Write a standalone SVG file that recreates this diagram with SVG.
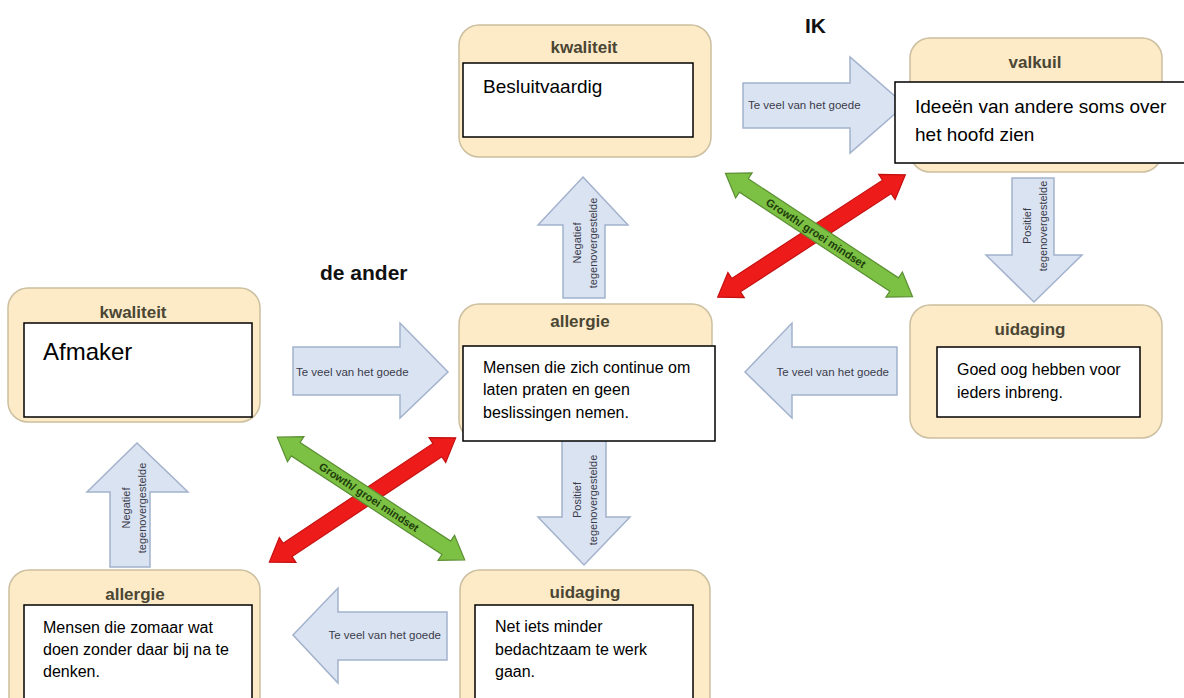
<svg xmlns="http://www.w3.org/2000/svg" width="1184" height="698" viewBox="0 0 1184 698">
<defs>
<style>
.node{fill:#fdebc8;stroke:#cbbf9f;stroke-width:1.5}
.title{font-family:"Liberation Sans",Arial,sans-serif;font-weight:bold;font-size:17px;fill:#4a4633;text-anchor:middle}
.box{fill:#ffffff;stroke:#000000;stroke-width:1.5}
.body{font-family:"Liberation Sans",Arial,sans-serif;font-size:16px;fill:#000000}
.big{font-size:19px}
.huge{font-size:24px}
.head{font-family:"Liberation Sans",Arial,sans-serif;font-weight:bold;font-size:21px;fill:#111111}
.blk{fill:#dae3f2;stroke:#a3b2cc;stroke-width:1.5}
.blab{font-family:"Liberation Sans",Arial,sans-serif;font-size:11.5px;fill:#3b3b4a}
.vlab{font-family:"Liberation Sans",Arial,sans-serif;font-size:11px;fill:#3b3b4a;text-anchor:middle}
.green{fill:#7cc143;stroke:#5b8f33;stroke-width:1.2}
.red{fill:#ee1b1b;stroke:#c40f0f;stroke-width:1.2}
.glab{font-family:"Liberation Sans",Arial,sans-serif;font-weight:bold;font-size:11px;fill:#1e3d0c;text-anchor:middle}
</style>
<polygon id="dbl" points="-112,0 -90,-15 -90,-8 90,-8 90,-15 112,0 90,15 90,8 -90,8 -90,15"/>
</defs>
<rect width="1184" height="698" fill="#ffffff"/>

<text class="head" x="805" y="33">IK</text>
<text class="head" x="320" y="280">de ander</text>

<g id="connectors">
  <!-- block arrows: te veel van het goede -->
  <polygon class="blk" points="743,83 850,83 850,57 905,105 850,153 850,128 743,128"/>
  <text class="blab" x="748" y="109">Te veel van het goede</text>
  <polygon class="blk" points="293,347 400,347 400,323 448,372 400,418 400,395 293,395"/>
  <text class="blab" x="296" y="376">Te veel van het goede</text>
  <polygon class="blk" points="745,372 792,323 792,347 897,347 897,395 792,395 792,418"/>
  <text class="blab" x="889" y="376" text-anchor="end">Te veel van het goede</text>
  <polygon class="blk" points="293,635 338,588 338,612 447,612 447,660 338,660 338,683"/>
  <text class="blab" x="441" y="639" text-anchor="end">Te veel van het goede</text>

  <!-- vertical block arrows -->
  <polygon class="blk" points="583,177 628,225 605,225 605,298 563,298 563,225 538,225"/>
  <text class="vlab" transform="translate(577,243) rotate(-90)" dy="4">Negatief</text>
  <text class="vlab" transform="translate(593,243) rotate(-90)" dy="4">tegenovergestelde</text>

  <polygon class="blk" points="1012,178 1054,178 1054,255 1082,255 1034,302 986,255 1012,255"/>
  <text class="vlab" transform="translate(1027,226) rotate(-90)" dy="4">Positief</text>
  <text class="vlab" transform="translate(1043,226) rotate(-90)" dy="4">tegenovergestelde</text>

  <polygon class="blk" points="562,440 606,440 606,517 630,517 584,565 538,517 562,517"/>
  <text class="vlab" transform="translate(577,500) rotate(-90)" dy="4">Positief</text>
  <text class="vlab" transform="translate(593,500) rotate(-90)" dy="4">tegenovergestelde</text>

  <polygon class="blk" points="137,443 188,492 150,492 150,567 110,567 110,492 87,492"/>
  <text class="vlab" transform="translate(126,508) rotate(-90)" dy="4">Negatief</text>
  <text class="vlab" transform="translate(142,508) rotate(-90)" dy="4">tegenovergestelde</text>

  <!-- crossing double arrows -->
  <use href="#dbl" class="red" transform="translate(811.5,236) rotate(-33.1)"/>
  <use href="#dbl" class="green" transform="translate(819,235) rotate(33.4)"/>
  <text class="glab" transform="translate(816,233) rotate(33.4)" dy="4">Growth/ groei mindset</text>

  <use href="#dbl" class="red" transform="translate(362.5,500) rotate(-33.7)"/>
  <use href="#dbl" class="green" transform="translate(371,498.5) rotate(33.2)"/>
  <text class="glab" transform="translate(369,497) rotate(33.2)" dy="4">Growth/ groei mindset</text>
</g>

<g id="ik-kwaliteit">
  <rect class="node" x="459" y="25" width="252" height="132" rx="20"/>
  <text class="title" x="584" y="53">kwaliteit</text>
  <rect class="box" x="463" y="63" width="230" height="74"/>
  <text class="body big" x="483" y="93">Besluitvaardig</text>
</g>

<g id="ik-valkuil">
  <rect class="node" x="910" y="38" width="252" height="134" rx="20"/>
  <text class="title" x="1035" y="68">valkuil</text>
  <rect class="box" x="895" y="82" width="292" height="81"/>
  <text class="body big" x="915" y="113">Ideeën van andere soms over</text>
  <text class="body big" x="915" y="141">het hoofd zien</text>
</g>

<g id="ik-uidaging">
  <rect class="node" x="910" y="305" width="252" height="133" rx="20"/>
  <text class="title" x="1030" y="335">uidaging</text>
  <rect class="box" x="937" y="347" width="203" height="70"/>
  <text class="body" x="957" y="375">Goed oog hebben voor</text>
  <text class="body" x="957" y="398">ieders inbreng.</text>
</g>

<g id="allergie-midden">
  <rect class="node" x="459" y="304" width="253" height="136" rx="20"/>
  <text class="title" x="580" y="327">allergie</text>
  <rect class="box" x="463" y="346" width="252" height="95"/>
  <text class="body" x="483" y="373">Mensen die zich continue om</text>
  <text class="body" x="483" y="395">laten praten en geen</text>
  <text class="body" x="483" y="418">beslissingen nemen.</text>
</g>

<g id="ander-kwaliteit">
  <rect class="node" x="8" y="288" width="252" height="134" rx="20"/>
  <text class="title" x="133" y="318">kwaliteit</text>
  <rect class="box" x="24" y="323" width="228" height="94"/>
  <text class="body huge" x="43" y="360">Afmaker</text>
</g>

<g id="ander-allergie">
  <rect class="node" x="9" y="570" width="251" height="150" rx="20"/>
  <text class="title" x="135" y="600">allergie</text>
  <rect class="box" x="24" y="605" width="228" height="100"/>
  <text class="body" x="43" y="633">Mensen die zomaar wat</text>
  <text class="body" x="43" y="655">doen zonder daar bij na te</text>
  <text class="body" x="43" y="677">denken.</text>
</g>

<g id="ander-uidaging">
  <rect class="node" x="460" y="570" width="250" height="150" rx="20"/>
  <text class="title" x="585" y="598">uidaging</text>
  <rect class="box" x="475" y="605" width="218" height="100"/>
  <text class="body" x="495" y="632">Net iets minder</text>
  <text class="body" x="495" y="655">bedachtzaam te werk</text>
  <text class="body" x="495" y="677">gaan.</text>
</g>
</svg>
